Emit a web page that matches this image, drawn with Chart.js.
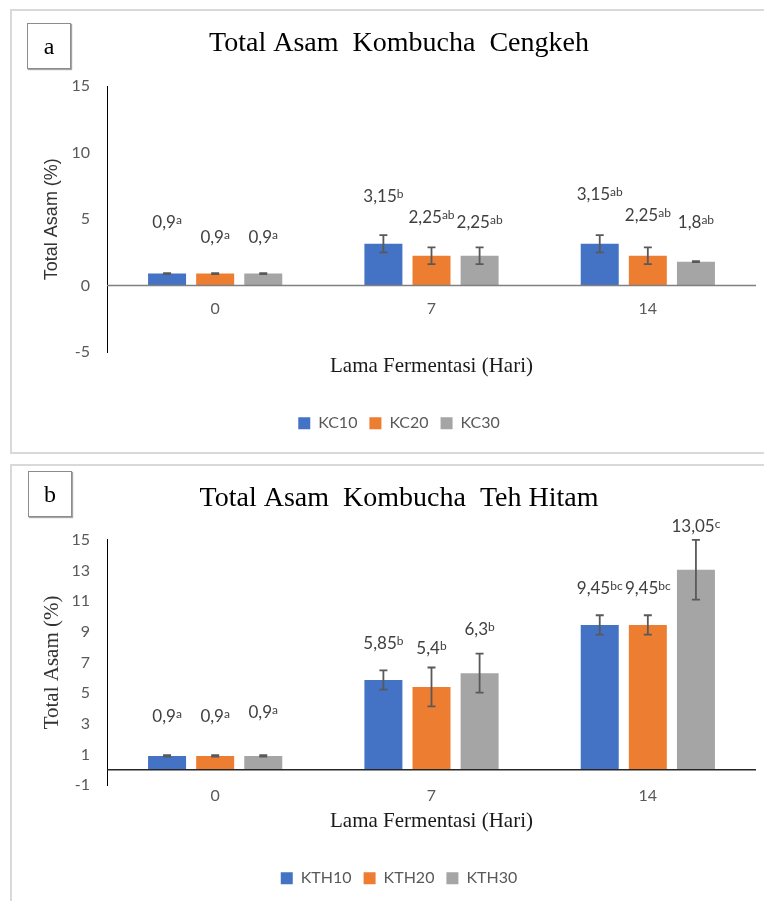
<!DOCTYPE html>
<html>
<head>
<meta charset="utf-8">
<script src="https://cdn.jsdelivr.net/npm/chart.js@4/dist/chart.umd.min.js"></script>
<style>
  html, body { margin: 0; padding: 0; background: #fff; }
  body { width: 764px; height: 901px; overflow: hidden; position: relative; }
  .frame { position: absolute; box-sizing: border-box; border: 2px solid #d9d9d9; }
  .wrap { position: absolute; left: 0; width: 764px; height: 455px; }
  .tag { position: absolute; box-sizing: border-box; width: 44px; height: 46px;
         border: 1px solid #8c8c8c; box-shadow: 1px 1px 1px rgba(0,0,0,0.35);
         font-family: 'Liberation Serif', serif; font-size: 24px; color: #000;
         display: flex; align-items: center; justify-content: center; z-index: 3; background: #fff; }
</style>
</head>
<body>
<div class="frame" style="left:10px;top:9px;width:820px;height:445px"></div>
<div class="frame" style="left:10px;top:464px;width:820px;height:500px"></div>
<div class="wrap" style="top:0"><canvas id="chartA" width="764" height="455"></canvas></div>
<div class="wrap" style="top:455px"><canvas id="chartB" width="764" height="455"></canvas></div>
<div class="tag" style="left:27px;top:23px">a</div>
<div class="tag" style="left:28px;top:471px">b</div>
<script>
// ---------- data ----------
const categories = ['0', '7', '14'];

// Chart a: Kombucha Cengkeh
const seriesA = ['KC10', 'KC20', 'KC30'];
const kc10 = [0.9, 3.15, 3.15];
const kc20 = [0.9, 2.25, 2.25];
const kc30 = [0.9, 2.25, 1.8];
const kc10Err = [0.04, 0.65, 0.65];
const kc20Err = [0.04, 0.63, 0.63];
const kc30Err = [0.04, 0.63, 0.03];
const kc10Sig = ['a', 'b', 'ab'];
const kc20Sig = ['a', 'ab', 'ab'];
const kc30Sig = ['a', 'ab', 'ab'];
const yTicksA = { min: -5, max: 15, step: 5 };

// Chart b: Kombucha Teh Hitam
const seriesB = ['KTH10', 'KTH20', 'KTH30'];
const kth10 = [0.9, 5.85, 9.45];
const kth20 = [0.9, 5.4, 9.45];
const kth30 = [0.9, 6.3, 13.05];
const kth10Err = [0.05, 0.63, 0.63];
const kth20Err = [0.05, 1.27, 0.63];
const kth30Err = [0.05, 1.27, 1.95];
const kth10Sig = ['a', 'b', 'bc'];
const kth20Sig = ['a', 'b', 'bc'];
const kth30Sig = ['a', 'b', 'c'];
const yTicksB = { min: -1, max: 15, step: 2 };

const colors = ['#4472C4', '#ED7D31', '#A5A5A5'];

// ---------- plugin: zero line, error bars, value labels ----------
const fmt = v => String(v).replace('.', ',');
const overlay = {
  id: 'overlay',
  afterDatasetsDraw(chart, args, opts) {
    const ctx = chart.ctx, ys = chart.scales.y, area = chart.chartArea;
    ctx.save();
    // zero line
    const z = ys.getPixelForValue(0);
    ctx.strokeStyle = opts.zeroColor; ctx.lineWidth = 1.5;
    ctx.beginPath(); ctx.moveTo(area.left, z); ctx.lineTo(area.right, z); ctx.stroke();
    chart.data.datasets.forEach((ds, di) => {
      const meta = chart.getDatasetMeta(di);
      meta.data.forEach((bar, i) => {
        const v = ds.data[i], e = opts.errors[di][i];
        const x = bar.x;
        const yt = ys.getPixelForValue(v + e), yb = ys.getPixelForValue(v - e);
        ctx.strokeStyle = '#595959'; ctx.lineWidth = 1.8;
        ctx.beginPath();
        ctx.moveTo(x, yt); ctx.lineTo(x, yb);
        ctx.moveTo(x - 4, yt); ctx.lineTo(x + 4, yt);
        ctx.moveTo(x - 4, yb); ctx.lineTo(x + 4, yb);
        ctx.stroke();
        // label
        const ly = ys.getPixelForValue(opts.labelAt[di][i]);
        const main = fmt(v), sup = opts.sig[di][i];
        ctx.fillStyle = '#404040';
        ctx.textBaseline = 'alphabetic'; ctx.textAlign = 'left';
        ctx.font = '17px Lato';
        const w1 = ctx.measureText(main).width;
        ctx.font = '12px Lato';
        const w2 = ctx.measureText(sup).width;
        const sx = x - (w1 + w2) / 2;
        ctx.font = '17px Lato';
        ctx.fillText(main, sx, ly + 6);
        ctx.font = '12px Lato';
        ctx.fillText(sup, sx + w1, ly + 2);
      });
    });
    ctx.restore();
  }
};

Chart.defaults.font.family = 'Lato';
Chart.defaults.color = '#595959';

function makeChart(id, title, names, values, errors, sigs, labelAt, ticks, yTitle, yTitleFont, zeroColor, xTick) {
  return new Chart(document.getElementById(id), {
    type: 'bar',
    data: {
      labels: categories,
      datasets: names.map((n, k) => ({
        label: n, data: values[k], backgroundColor: colors[k],
        categoryPercentage: 0.667, barPercentage: 0.79
      }))
    },
    options: {
      responsive: false, animation: false,
      layout: { padding: { left: 42, right: 8, top: 0, bottom: 13.7 } },
      plugins: {
        title: {
          display: true, text: title, color: '#000',
          font: { family: 'Liberation Serif', size: 28, weight: 'normal', lineHeight: 1.2 },
          padding: { top: 26.5, bottom: (id === 'chartA' ? 26.2 : 24.8) }
        },
        legend: {
          position: 'bottom',
          labels: { boxWidth: 12, boxHeight: 12, padding: 12, color: '#595959', font: { size: 16 } }
        },
        tooltip: { enabled: false },
        overlay: { errors, sig: sigs, labelAt, zeroColor }
      },
      scales: {
        x: {
          grid: { display: false, drawTicks: false },
          border: { display: false },
          ticks: { mirror: xTick.mirror, padding: xTick.pad, font: { size: 16 }, color: '#595959' },
          title: {
            display: true, text: 'Lama Fermentasi (Hari)', color: '#1a1a1a',
            font: { family: 'Liberation Serif', size: 21, lineHeight: 1.2 },
            padding: { top: 0, bottom: 24 }
          },
          afterFit: s => { s.height = (id === 'chartA' ? 51.3 : 73.3); }
        },
        y: {
          min: ticks.min, max: ticks.max,
          grid: { display: false, drawTicks: false },
          border: { display: true, color: '#000', width: 1 },
          ticks: { stepSize: ticks.step, padding: 17, font: { size: 16 }, color: '#595959' },
          title: {
            display: true, text: yTitle, color: '#333',
            font: yTitleFont, padding: { top: (id === 'chartA' ? 1 : 0), bottom: 0 }
          },
          afterFit: s => { s.width = 65; }
        }
      }
    },
    plugins: [overlay]
  });
}

makeChart('chartA', 'Total Asam  Kombucha  Cengkeh', seriesA,
  [kc10, kc20, kc30], [kc10Err, kc20Err, kc30Err], [kc10Sig, kc20Sig, kc30Sig],
  [[4.77, 6.78, 6.91], [3.64, 5.15, 5.33], [3.64, 4.77, 4.77]],
  yTicksA, 'Total Asam (%)', { family: 'Liberation Sans', size: 18, lineHeight: 1 }, '#808080',
  { mirror: true, pad: 33.1 });

makeChart('chartB', 'Total Asam  Kombucha  Teh Hitam', seriesB,
  [kth10, kth20, kth30], [kth10Err, kth20Err, kth30Err], [kth10Sig, kth20Sig, kth30Sig],
  [[3.53, 8.28, 11.89], [3.53, 7.92, 11.89], [3.78, 9.18, 15.89]],
  yTicksB, 'Total Asam (%)', { family: 'Liberation Serif', size: 21, lineHeight: 1 }, '#262626',
  { mirror: false, pad: 1.1 });
</script>
</body>
</html>
